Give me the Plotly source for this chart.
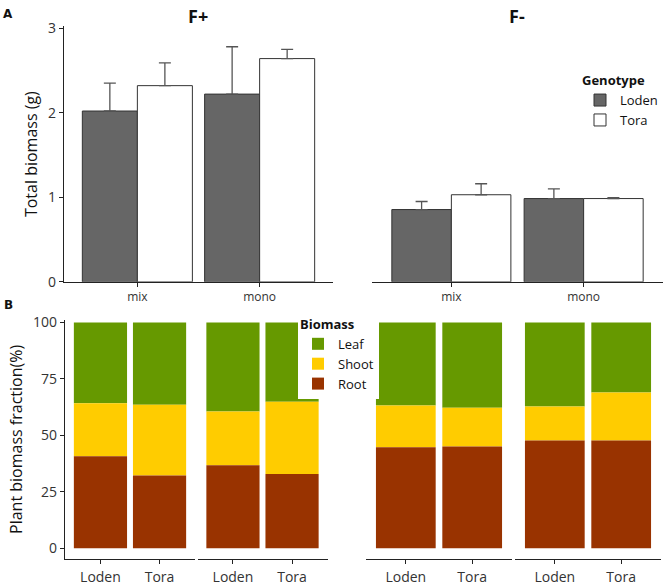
import numpy as np
import plotly.graph_objects as go

W, H = 666, 588

# panel A: total biomass (g), mean and upper error
GROUPS = ["mix", "mono"]
FP_LODEN = [2.02, 2.22]
FP_LODEN_ERR = [0.33, 0.56]
FP_TORA = [2.32, 2.64]
FP_TORA_ERR = [0.27, 0.11]
FM_LODEN = [0.855, 0.985]
FM_LODEN_ERR = [0.095, 0.115]
FM_TORA = [1.03, 0.985]
FM_TORA_ERR = [0.13, 0.012]

# panel B: biomass fractions (%), order Loden, Tora
GENOTYPES = ["Loden", "Tora"]
FRACTIONS = {
    # panel: (root, shoot, leaf)
    "F+ mix": ([40.7, 32.2], [23.5, 31.4], [35.8, 36.4]),
    "F+ mono": ([36.8, 32.9], [23.8, 32.0], [39.4, 35.1]),
    "F- mix": ([44.7, 45.1], [18.5, 17.1], [36.8, 37.8]),
    "F- mono": ([47.7, 47.7], [15.1, 21.3], [37.2, 31.0]),
}

C_LODEN = "#666666"
C_TORA = "#ffffff"
C_LEAF = "#669900"
C_SHOOT = "#ffcc00"
C_ROOT = "#993300"
FONT = "Open Sans"


def xd(a, b):
    return [a / W, b / W]


def yd(top, bottom):
    return [1 - bottom / H, 1 - top / H]


fig = go.Figure()

# --- A: grouped bars with upper error bars
top = [("x", "y", FP_LODEN, FP_LODEN_ERR, FP_TORA, FP_TORA_ERR, True),
       ("x2", "y2", FM_LODEN, FM_LODEN_ERR, FM_TORA, FM_TORA_ERR, False)]
for xa, ya, lod, lod_e, tor, tor_e, show in top:
    for name, vals, errs, col in [("Loden", lod, lod_e, C_LODEN),
                                  ("Tora", tor, tor_e, C_TORA)]:
        fig.add_trace(go.Bar(
            x=GROUPS, y=vals, name=name, xaxis=xa, yaxis=ya,
            marker=dict(color=col, line=dict(color="#333333", width=1)),
            error_y=dict(type="data", array=errs, arrayminus=[0] * len(errs),
                         color="#555555", thickness=1.3, width=6),
            legend="legend", showlegend=show, legendgroup=name))

# --- B: stacked fractions (base from cumulative sums)
bottom_axes = [("x3", "y3"), ("x4", "y4"), ("x5", "y5"), ("x6", "y6")]
for i, (key, (root, shoot, leaf)) in enumerate(FRACTIONS.items()):
    xa, ya = bottom_axes[i]
    root, shoot, leaf = map(np.array, (root, shoot, leaf))
    layers = [("Leaf", leaf, root + shoot, C_LEAF),
              ("Shoot", shoot, root, C_SHOOT),
              ("Root", root, np.zeros_like(root), C_ROOT)]
    for name, vals, base, col in layers:
        fig.add_trace(go.Bar(
            x=GENOTYPES, y=vals, base=base, name=name, xaxis=xa, yaxis=ya,
            offsetgroup="stack", marker=dict(color=col, line=dict(width=0)),
            legend="legend2", showlegend=(i == 0), legendgroup=name))

axis_line = dict(showline=True, linecolor="#222222", linewidth=1.3,
                 ticks="outside", ticklen=4, tickcolor="#222222",
                 showgrid=False, zeroline=False, fixedrange=True)
cat_x = dict(axis_line, type="category", range=[-0.6, 1.6], ticklabelstandoff=0)

tick_font = dict(family=FONT, size=13, color="#333333")
fig.update_layout(
    width=W, height=H, margin=dict(l=0, r=0, t=0, b=0),
    plot_bgcolor="white", paper_bgcolor="white",
    font=dict(family=FONT, color="#111111"),
    barmode="group", bargap=0.1, bargroupgap=0,
    xaxis=dict(cat_x, domain=xd(64, 333), anchor="y", tickfont=dict(tick_font, size=12)),
    yaxis=dict(axis_line, domain=yd(19, 282), range=[0, 3.02], anchor="x",
               tickvals=[0, 1, 2, 3], tickfont=dict(tick_font, size=14),
               title=dict(text="Total biomass (g)", font=dict(family=FONT, size=16),
                          standoff=6)),
    xaxis2=dict(cat_x, domain=xd(372, 663), anchor="y2", tickfont=dict(tick_font, size=12)),
    yaxis2=dict(domain=yd(19, 282), range=[0, 3.02], anchor="x2", visible=False,
                fixedrange=True),
)

bottom_dom = [(65, 195), (197.5, 327.5), (366, 512), (515, 661)]
for i, (a, b) in enumerate(bottom_dom):
    n = i + 3
    fig.layout[f"xaxis{n}"] = dict(cat_x, domain=xd(a, b), anchor=f"y{n}",
                                  tickfont=dict(tick_font, size=14),
                                  ticklabelstandoff=1)
    ydict = dict(domain=yd(321.5, 567), range=[-4.6, 101], anchor=f"x{n}",
                 fixedrange=True)
    if i == 0:
        ydict.update(axis_line, tickvals=[0, 25, 50, 75, 100],
                     tickfont=dict(tick_font, size=14),
                     title=dict(text="Plant biomass fraction(%)",
                                font=dict(family=FONT, size=16), standoff=6))
    else:
        ydict.update(visible=False)
    fig.layout[f"yaxis{n}"] = ydict

fig.update_layout(
    legend=dict(x=580 / W, y=1 - 62 / H, xanchor="left", yanchor="top",
                title=dict(text="<b>Genotype</b>", font=dict(family=FONT, size=13)),
                font=dict(family=FONT, size=13), bgcolor="rgba(0,0,0,0)",
                tracegroupgap=0, itemwidth=30),
    legend2=dict(x=298 / W, y=1 - 313 / H, xanchor="left", yanchor="top",
                 title=dict(text="<b>Biomass</b>", font=dict(family=FONT, size=13)),
                 font=dict(family=FONT, size=13), bgcolor="white",
                 tracegroupgap=0, itemwidth=30, traceorder="normal"),
)

# panel titles and letters
for text, x, y, size, fam in [("F+", 198, 8, 18, FONT), ("F-", 517, 8, 18, FONT),
                              ("A", 8, 6, 12, "DejaVu Sans"),
                              ("B", 8, 306, 12, "DejaVu Sans")]:
    fig.add_annotation(text=f"<b>{text}</b>", x=x / W, y=1 - y / H, xref="paper",
                       yref="paper", xanchor="center", yanchor="middle",
                       showarrow=False, font=dict(family=fam, size=size, color="#111111"))

# page body margin would push the fixed-size figure past the window
fig.write_html("out.html", config={"displayModeBar": False},
               post_script="document.body.style.margin='0';")
